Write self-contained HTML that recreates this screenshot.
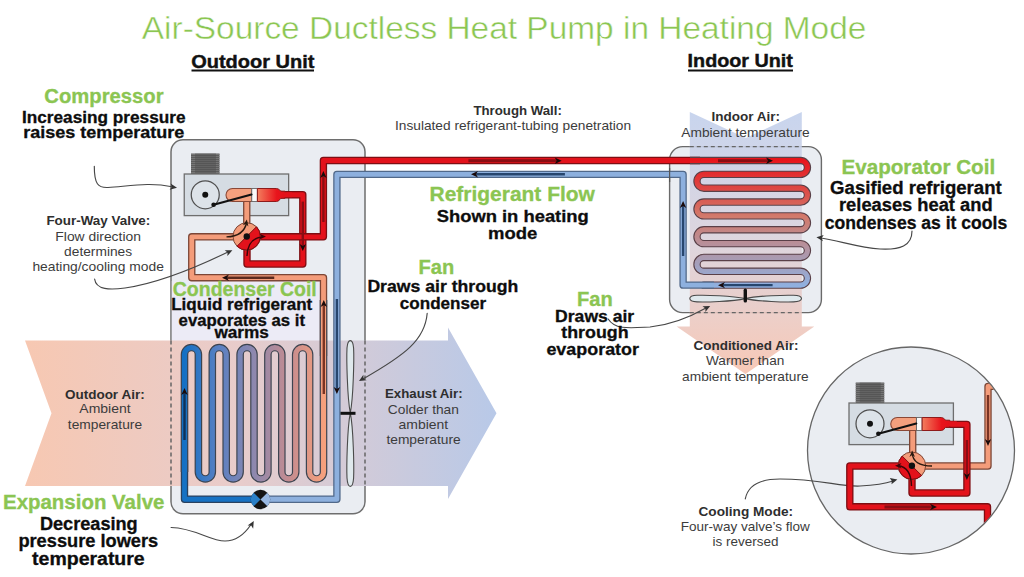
<!DOCTYPE html>
<html><head><meta charset="utf-8">
<style>
html,body{margin:0;padding:0;background:#fff;width:1024px;height:577px;overflow:hidden}
svg{display:block}
text{font-family:"Liberation Sans",sans-serif}
.g{fill:#3a3a3a;font-size:13.3px}
.gb{fill:#2e2e2e;font-size:13.3px;font-weight:bold}
.grn{fill:#8cc654;font-size:19px;font-weight:bold}
.blk{fill:#0d0d0d;font-size:16.5px;font-weight:bold}
.ld{fill:none;stroke:#4a4a4a;stroke-width:1.1}
</style></head><body>
<svg width="1024" height="577" viewBox="0 0 1024 577">
<defs>
<linearGradient id="hband" x1="25" y1="0" x2="497" y2="0" gradientUnits="userSpaceOnUse">
<stop offset="0" stop-color="#f7c8b2"/>
<stop offset="0.45" stop-color="#e8cccb"/>
<stop offset="1" stop-color="#b8c9e8"/>
</linearGradient>
<linearGradient id="vband" x1="0" y1="112" x2="0" y2="374" gradientUnits="userSpaceOnUse">
<stop offset="0" stop-color="#c2d0ec"/>
<stop offset="0.5" stop-color="#ddd3dc"/>
<stop offset="1" stop-color="#f6c2ae"/>
</linearGradient>
<linearGradient id="ocoil" x1="184" y1="0" x2="324" y2="0" gradientUnits="userSpaceOnUse">
<stop offset="0" stop-color="#1470c4"/>
<stop offset="0.25" stop-color="#5a80c2"/>
<stop offset="0.5" stop-color="#8e88ae"/>
<stop offset="0.75" stop-color="#c48c90"/>
<stop offset="1" stop-color="#f6a07c"/>
</linearGradient>
<linearGradient id="icoil" x1="0" y1="160" x2="0" y2="286" gradientUnits="userSpaceOnUse">
<stop offset="0" stop-color="#e8151c"/>
<stop offset="0.45" stop-color="#d27a6c"/>
<stop offset="1" stop-color="#8fb0e0"/>
</linearGradient>
<linearGradient id="cyl" x1="0" y1="0" x2="1" y2="0">
<stop offset="0" stop-color="#f37e5e"/>
<stop offset="0.7" stop-color="#e8141c"/>
<stop offset="1" stop-color="#e3101a"/>
</linearGradient>
<marker id="ah" viewBox="0 0 10 10" refX="9" refY="5" markerWidth="7" markerHeight="7" markerUnits="userSpaceOnUse" orient="auto">
<path d="M0,0 L10,5 L0,10 L3,5 Z" fill="#333"/>
</marker>
</defs>
<!-- outdoor box -->
<rect x="171" y="139.75" width="194" height="374" rx="12" fill="#eaedf2" stroke="#6e6e6e" stroke-width="1.5"/>
<rect x="171.8" y="281" width="149" height="60" fill="#ecebf6"/>
<!-- horizontal air band -->
<polygon points="25,340.5 448,340.5 448,327.5 496.5,413.2 448,499 448,486 25,486 51.5,413.2" fill="url(#hband)"/>
<line x1="171" y1="340.5" x2="171" y2="486" stroke="#666" stroke-width="1.5" stroke-dasharray="4 3"/>
<line x1="365" y1="340.5" x2="365" y2="486" stroke="#666" stroke-width="1.5" stroke-dasharray="4 3"/>
<!-- indoor box -->
<rect x="669.6" y="146.6" width="151.8" height="166" rx="13" fill="#eaedf2" stroke="#6a6a6a" stroke-width="1.4"/>
<polygon points="689.8,112 745.8,138 801.8,112 801.8,326.6 814.3,326.6 745.5,374 676.6,326.6 689.8,326.6" fill="url(#vband)" opacity="0.9"/>
<line x1="689.8" y1="146.6" x2="801.8" y2="146.6" stroke="#666" stroke-width="1.4" stroke-dasharray="4 3"/>
<line x1="689.8" y1="312.6" x2="801.8" y2="312.6" stroke="#666" stroke-width="1.4" stroke-dasharray="4 3"/>
<!-- cooling circle -->
<circle cx="911" cy="450.5" r="103.5" fill="#eaedf2" stroke="#666" stroke-width="1.3"/>
<g transform="translate(0,0)">
<rect x="191" y="153.5" width="28.5" height="20.5" fill="#5c5c5c"/>
<line x1="191" y1="154.5" x2="219.5" y2="154.5" stroke="#7c7c7c" stroke-width="0.8"/>
<line x1="191" y1="156.5" x2="219.5" y2="156.5" stroke="#7c7c7c" stroke-width="0.8"/>
<line x1="191" y1="158.5" x2="219.5" y2="158.5" stroke="#7c7c7c" stroke-width="0.8"/>
<line x1="191" y1="160.5" x2="219.5" y2="160.5" stroke="#7c7c7c" stroke-width="0.8"/>
<line x1="191" y1="162.5" x2="219.5" y2="162.5" stroke="#7c7c7c" stroke-width="0.8"/>
<line x1="191" y1="164.5" x2="219.5" y2="164.5" stroke="#7c7c7c" stroke-width="0.8"/>
<line x1="191" y1="166.5" x2="219.5" y2="166.5" stroke="#7c7c7c" stroke-width="0.8"/>
<line x1="191" y1="168.5" x2="219.5" y2="168.5" stroke="#7c7c7c" stroke-width="0.8"/>
<line x1="191" y1="170.5" x2="219.5" y2="170.5" stroke="#7c7c7c" stroke-width="0.8"/>
<line x1="191" y1="172.5" x2="219.5" y2="172.5" stroke="#7c7c7c" stroke-width="0.8"/>
<rect x="195" y="153.5" width="21" height="20.5" fill="#505050" opacity="0.5"/>
<rect x="184.25" y="174" width="104.4" height="41.6" fill="#d5dce3" stroke="#6e6e6e" stroke-width="1.3"/>
<circle cx="205.25" cy="194.75" r="14" fill="#dde3e9" stroke="#505050" stroke-width="1.25"/>
<circle cx="205.25" cy="194.75" r="3" fill="#111"/>
</g>
<path d="M281,194.75 H302.8 V264 H247 V237" fill="none" stroke="#7e0e13" stroke-width="7.4" stroke-linejoin="round" />
<path d="M281,194.75 H302.8 V264 H247 V237" fill="none" stroke="#e3121b" stroke-width="4.8" stroke-linejoin="round" />
<path d="M246.75,200 V237" fill="none" stroke="#7c4636" stroke-width="7.4" stroke-linejoin="round" />
<path d="M246.75,200 V237" fill="none" stroke="#f49c7a" stroke-width="4.8" stroke-linejoin="round" />
<path d="M247,236.8 H191.75 V277.7 H323.5 V356" fill="none" stroke="#7c4636" stroke-width="7.4" stroke-linejoin="round" />
<path d="M247,236.8 H191.75 V277.7 H323.5 V356" fill="none" stroke="#f49c7a" stroke-width="4.8" stroke-linejoin="round" />
<path d="M247,236.8 H323.4 V160.5 H700" fill="none" stroke="#7e0e13" stroke-width="7.4" stroke-linejoin="round" />
<path d="M247,236.8 H323.4 V160.5 H700" fill="none" stroke="#e3121b" stroke-width="4.8" stroke-linejoin="round" />
<path d="M184.5,460 V499.25 H262" fill="none" stroke="#2a4260" stroke-width="7.4" stroke-linejoin="round" />
<path d="M184.5,460 V499.25 H262" fill="none" stroke="#1672c4" stroke-width="4.8" stroke-linejoin="round" />
<path d="M323.50,300 V472 A6.95,6.95 0 0 1 309.60,472 V354.5 A6.95,6.95 0 0 0 295.70,354.5 V472 A6.95,6.95 0 0 1 281.80,472 V354.5 A6.95,6.95 0 0 0 267.90,354.5 V472 A6.95,6.95 0 0 1 254.00,472 V354.5 A6.95,6.95 0 0 0 240.10,354.5 V472 A6.95,6.95 0 0 1 226.20,472 V354.5 A6.95,6.95 0 0 0 212.30,354.5 V472 A6.95,6.95 0 0 1 198.40,472 V354.5 A6.95,6.95 0 0 0 184.50,354.5 V472" fill="none" stroke="#3d4450" stroke-width="7.6" stroke-linejoin="round"/>
<path d="M323.50,300 V472 A6.95,6.95 0 0 1 309.60,472 V354.5 A6.95,6.95 0 0 0 295.70,354.5 V472 A6.95,6.95 0 0 1 281.80,472 V354.5 A6.95,6.95 0 0 0 267.90,354.5 V472 A6.95,6.95 0 0 1 254.00,472 V354.5 A6.95,6.95 0 0 0 240.10,354.5 V472 A6.95,6.95 0 0 1 226.20,472 V354.5 A6.95,6.95 0 0 0 212.30,354.5 V472 A6.95,6.95 0 0 1 198.40,472 V354.5 A6.95,6.95 0 0 0 184.50,354.5 V472" fill="none" stroke="url(#ocoil)" stroke-width="5.2" stroke-linejoin="round"/>
<path d="M690,160.50 H800.5 A6.925,6.925 0 0 1 800.5,174.35 H703.9 A6.925,6.925 0 0 0 703.9,188.20 H800.5 A6.925,6.925 0 0 1 800.5,202.05 H703.9 A6.925,6.925 0 0 0 703.9,215.90 H800.5 A6.925,6.925 0 0 1 800.5,229.75 H703.9 A6.925,6.925 0 0 0 703.9,243.60 H800.5 A6.925,6.925 0 0 1 800.5,257.45 H703.9 A6.925,6.925 0 0 0 703.9,271.30 H800.5 A6.925,6.925 0 0 1 800.5,285.15 H703.9 H712" fill="none" stroke="#5a4048" stroke-width="7.4" stroke-linejoin="round"/>
<path d="M690,160.50 H800.5 A6.925,6.925 0 0 1 800.5,174.35 H703.9 A6.925,6.925 0 0 0 703.9,188.20 H800.5 A6.925,6.925 0 0 1 800.5,202.05 H703.9 A6.925,6.925 0 0 0 703.9,215.90 H800.5 A6.925,6.925 0 0 1 800.5,229.75 H703.9 A6.925,6.925 0 0 0 703.9,243.60 H800.5 A6.925,6.925 0 0 1 800.5,257.45 H703.9 A6.925,6.925 0 0 0 703.9,271.30 H800.5 A6.925,6.925 0 0 1 800.5,285.15 H703.9 H712" fill="none" stroke="url(#icoil)" stroke-width="5.2" stroke-linejoin="round"/>
<path d="M260.5,499.25 H336.9 V174.4 H683.1 V285.15 H714" fill="none" stroke="#51698a" stroke-width="7.4" stroke-linejoin="round" />
<path d="M260.5,499.25 H336.9 V174.4 H683.1 V285.15 H714" fill="none" stroke="#8db0de" stroke-width="4.8" stroke-linejoin="round" />
<line x1="669.6" y1="168" x2="669.6" y2="182" stroke="#555" stroke-width="1.2"/>
<g transform="translate(0,0)">
<path d="M232.5,188.5 H251.75 V201.5 H232.5 A6.5,6.5 0 0 1 232.5,188.5 Z" fill="#f4a07e" stroke="#8a4836" stroke-width="1.1"/>
<rect x="251.75" y="188.5" width="5.6" height="13" fill="#fafafa" stroke="#666" stroke-width="0.9"/>
<path d="M257.4,188.5 H276.5 Q279,188.5 280.5,191 L282,191.2 H285 V198.3 H282 L280.5,198.5 Q279,201.5 276.5,201.5 H257.4 Z" fill="url(#cyl)" stroke="#8e1a1a" stroke-width="1"/>
<line x1="213.6" y1="204.75" x2="251.5" y2="194.5" stroke="#111" stroke-width="2.2" stroke-linecap="round"/>
<circle cx="213.6" cy="204.75" r="2.3" fill="#111"/>
<path d="M283.5,194.75 H292" stroke="#e3121b" stroke-width="4.9"/>
</g>
<circle cx="246.75" cy="236.5" r="13.75" fill="#f49c7a" stroke="#7c4636" stroke-width="1"/>
<path d="M256.47,226.78 A13.75,13.75 0 0 1 237.03,246.22 Z" fill="#e3121b" stroke="#7e0e13" stroke-width="1"/>
<circle cx="246.75" cy="236.5" r="3.2" fill="#111"/>
<path d="M226.5,236.9 Q244,236.5 246.75,222" fill="none" stroke="#2a1a10" stroke-width="1.4"/>
<path d="M246.90,219.50 L248.37,226.42 L246.01,223.96 L242.88,225.32 Z" fill="#2a1a10"/>
<path d="M247,256 Q247.5,238 263,236.8" fill="none" stroke="#3a0508" stroke-width="1.4"/>
<path d="M266.00,236.60 L259.50,239.40 L261.45,236.60 L259.50,233.80 Z" fill="#3a0508"/>
<circle cx="260.5" cy="499.5" r="9.7" fill="#151515"/>
<path d="M260.5,499.5 L253.64,492.64 A9.7,9.7 0 0 0 253.64,506.36 Z" fill="#2a80c8"/>
<path d="M260.5,499.5 L267.36,492.64 A9.7,9.7 0 0 1 267.36,506.36 Z" fill="#98b8e2"/>
<line x1="323.4" y1="222" x2="323.40" y2="175.00" stroke="#8a0d13" stroke-width="2.4"/>
<path d="M323.40,171.00 L326.60,178.00 L323.40,175.90 L320.20,178.00 Z" fill="#1a0a0a"/>
<line x1="302.8" y1="201.6" x2="302.80" y2="247.00" stroke="#8a0d13" stroke-width="2.4"/>
<path d="M302.80,251.00 L299.60,244.00 L302.80,246.10 L306.00,244.00 Z" fill="#1a0a0a"/>
<line x1="274.25" y1="277.7" x2="226.00" y2="277.70" stroke="#5a2a1e" stroke-width="2.4"/>
<path d="M222.00,277.70 L229.00,274.50 L226.90,277.70 L229.00,280.90 Z" fill="#1a0a0a"/>
<line x1="323.8" y1="394" x2="323.80" y2="304.00" stroke="#7a3424" stroke-width="2.4"/>
<path d="M323.80,300.00 L327.00,307.00 L323.80,304.90 L320.60,307.00 Z" fill="#1a0a0a"/>
<line x1="336.9" y1="299" x2="336.90" y2="390.00" stroke="#27466e" stroke-width="2.4"/>
<path d="M336.90,394.00 L333.70,387.00 L336.90,389.10 L340.10,387.00 Z" fill="#1a0a0a"/>
<line x1="184.5" y1="440" x2="184.50" y2="392.00" stroke="#10325a" stroke-width="2.4"/>
<path d="M184.50,388.00 L187.70,395.00 L184.50,392.90 L181.30,395.00 Z" fill="#1a0a0a"/>
<line x1="468.4" y1="160.8" x2="557.70" y2="160.80" stroke="#8a0d13" stroke-width="3"/>
<path d="M561.70,160.80 L554.70,164.00 L556.80,160.80 L554.70,157.60 Z" fill="#1a0a0a"/>
<line x1="564.9" y1="174.2" x2="475.00" y2="174.20" stroke="#27466e" stroke-width="2.4"/>
<path d="M471.00,174.20 L478.00,171.00 L475.90,174.20 L478.00,177.40 Z" fill="#1a0a0a"/>
<line x1="718" y1="160.8" x2="769.00" y2="160.80" stroke="#8a0d13" stroke-width="3"/>
<path d="M773.00,160.80 L766.00,164.00 L768.10,160.80 L766.00,157.60 Z" fill="#1a0a0a"/>
<line x1="683.1" y1="256" x2="683.10" y2="205.00" stroke="#27466e" stroke-width="2.4"/>
<path d="M683.10,201.00 L686.30,208.00 L683.10,205.90 L679.90,208.00 Z" fill="#1a0a0a"/>
<line x1="772.6" y1="285.15" x2="722.00" y2="285.15" stroke="#27466e" stroke-width="2.4"/>
<path d="M718.00,285.15 L725.00,281.95 L722.90,285.15 L725.00,288.35 Z" fill="#1a0a0a"/>
<path d="M350.3,412.8 C347.2,398 346.5,358 347,348 Q347.6,340.6 350.3,340.6 Q353,340.6 353.6,348 C354.1,358 353.4,398 350.3,412.8 Z" fill="#dfe8ec" stroke="#4a4a4a" stroke-width="1.1"/>
<path d="M350.3,412.8 C347.2,428 346.5,468 347,478 Q347.6,486.4 350.3,486.4 Q353,486.4 353.6,478 C354.1,468 353.4,428 350.3,412.8 Z" fill="#dfe8ec" stroke="#4a4a4a" stroke-width="1.1"/>
<rect x="340.5" y="411.8" width="15" height="3" fill="#111"/>
<path d="M745.25,298.6 C732,295.6 705,295 697,295.3 Q689.8,295.6 689.8,298.6 Q689.8,301.6 697,301.9 C705,302.2 732,301.6 745.25,298.6 Z" fill="#dfe8ec" stroke="#4a4a4a" stroke-width="1.1"/>
<path d="M745.25,298.6 C758.5,295.6 785.5,295 793.5,295.3 Q801.5,295.6 801.5,298.6 Q801.5,301.6 793.5,301.9 C785.5,302.2 758.5,301.6 745.25,298.6 Z" fill="#dfe8ec" stroke="#4a4a4a" stroke-width="1.1"/>
<rect x="743.6" y="288.6" width="3.4" height="14" rx="1.6" fill="#111"/>
<clipPath id="cc"><circle cx="911" cy="450.5" r="102.8"/></clipPath>
<path d="M745.3,498.9 C748,485 760,479 780,479 C820,479 840,487 860,486 C878,485 887,483 893,481" fill="none" stroke="#474747" stroke-width="1.15" stroke-linecap="round"/>
<path d="M897.4,479.5 L889.8,478.1 L891.8,480.9 L891.5,484.3 Z" fill="#333"/>
<g clip-path="url(#cc)">
<g transform="translate(664.75,229)">
<rect x="191" y="153.5" width="28.5" height="20.5" fill="#5c5c5c"/>
<line x1="191" y1="154.5" x2="219.5" y2="154.5" stroke="#7c7c7c" stroke-width="0.8"/>
<line x1="191" y1="156.5" x2="219.5" y2="156.5" stroke="#7c7c7c" stroke-width="0.8"/>
<line x1="191" y1="158.5" x2="219.5" y2="158.5" stroke="#7c7c7c" stroke-width="0.8"/>
<line x1="191" y1="160.5" x2="219.5" y2="160.5" stroke="#7c7c7c" stroke-width="0.8"/>
<line x1="191" y1="162.5" x2="219.5" y2="162.5" stroke="#7c7c7c" stroke-width="0.8"/>
<line x1="191" y1="164.5" x2="219.5" y2="164.5" stroke="#7c7c7c" stroke-width="0.8"/>
<line x1="191" y1="166.5" x2="219.5" y2="166.5" stroke="#7c7c7c" stroke-width="0.8"/>
<line x1="191" y1="168.5" x2="219.5" y2="168.5" stroke="#7c7c7c" stroke-width="0.8"/>
<line x1="191" y1="170.5" x2="219.5" y2="170.5" stroke="#7c7c7c" stroke-width="0.8"/>
<line x1="191" y1="172.5" x2="219.5" y2="172.5" stroke="#7c7c7c" stroke-width="0.8"/>
<rect x="195" y="153.5" width="21" height="20.5" fill="#505050" opacity="0.5"/>
<rect x="184.25" y="174" width="104.4" height="41.6" fill="#d5dce3" stroke="#6e6e6e" stroke-width="1.3"/>
<circle cx="205.25" cy="194.75" r="14" fill="#dde3e9" stroke="#505050" stroke-width="1.25"/>
<circle cx="205.25" cy="194.75" r="3" fill="#111"/>
</g>
<path d="M912.7,430 V466" fill="none" stroke="#7c4636" stroke-width="7.4" stroke-linejoin="round" />
<path d="M912.7,430 V466" fill="none" stroke="#f49c7a" stroke-width="4.8" stroke-linejoin="round" />
<path d="M911.9,466 H988 V386.4 H1030" fill="none" stroke="#7c4636" stroke-width="7.4" stroke-linejoin="round" />
<path d="M911.9,466 H988 V386.4 H1030" fill="none" stroke="#f49c7a" stroke-width="4.8" stroke-linejoin="round" />
<path d="M946,424.4 H966.9 V493 H912 V466" fill="none" stroke="#7e0e13" stroke-width="7.4" stroke-linejoin="round" />
<path d="M946,424.4 H966.9 V493 H912 V466" fill="none" stroke="#e3121b" stroke-width="4.8" stroke-linejoin="round" />
<path d="M911.9,466 H849.8 V506.8 H987.5 V580" fill="none" stroke="#7e0e13" stroke-width="7.4" stroke-linejoin="round" />
<path d="M911.9,466 H849.8 V506.8 H987.5 V580" fill="none" stroke="#e3121b" stroke-width="4.8" stroke-linejoin="round" />
<g transform="translate(664.75,229)">
<path d="M232.5,188.5 H251.75 V201.5 H232.5 A6.5,6.5 0 0 1 232.5,188.5 Z" fill="#f4a07e" stroke="#8a4836" stroke-width="1.1"/>
<rect x="251.75" y="188.5" width="5.6" height="13" fill="#fafafa" stroke="#666" stroke-width="0.9"/>
<path d="M257.4,188.5 H276.5 Q279,188.5 280.5,191 L282,191.2 H285 V198.3 H282 L280.5,198.5 Q279,201.5 276.5,201.5 H257.4 Z" fill="url(#cyl)" stroke="#8e1a1a" stroke-width="1"/>
<line x1="213.6" y1="204.75" x2="251.5" y2="194.5" stroke="#111" stroke-width="2.2" stroke-linecap="round"/>
<circle cx="213.6" cy="204.75" r="2.3" fill="#111"/>
<path d="M283.5,194.75 H292" stroke="#e3121b" stroke-width="4.9"/>
</g>
<circle cx="911.9" cy="465.8" r="13.75" fill="#f49c7a" stroke="#7c4636" stroke-width="1"/>
<path d="M921.62,475.52 A13.75,13.75 0 0 1 902.18,456.08 Z" fill="#e3121b" stroke="#7e0e13" stroke-width="1"/>
<circle cx="911.9" cy="465.8" r="3.2" fill="#111"/>
<path d="M932,466 Q913,466 912.2,453" fill="none" stroke="#2a1a10" stroke-width="1.4"/>
<path d="M912.20,450.50 L915.00,457.00 L912.20,455.05 L909.40,457.00 Z" fill="#2a1a10"/>
<path d="M911.5,486 Q911,467 898,465.8" fill="none" stroke="#3a0508" stroke-width="1.4"/>
<path d="M895.00,465.80 L901.50,463.00 L899.55,465.80 L901.50,468.60 Z" fill="#3a0508"/>
<line x1="966.9" y1="440" x2="966.90" y2="476.00" stroke="#8a0d13" stroke-width="2.4"/>
<path d="M966.90,480.00 L963.70,473.00 L966.90,475.10 L970.10,473.00 Z" fill="#1a0a0a"/>
<line x1="988" y1="395" x2="988.00" y2="442.00" stroke="#7a3424" stroke-width="2.4"/>
<path d="M988.00,446.00 L984.80,439.00 L988.00,441.10 L991.20,439.00 Z" fill="#1a0a0a"/>
<line x1="884.5" y1="507" x2="933.00" y2="507.00" stroke="#8a0d13" stroke-width="3"/>
<path d="M937.00,507.00 L930.00,510.20 L932.10,507.00 L930.00,503.80 Z" fill="#1a0a0a"/>
</g><path d="M94.3,166.2 C94.3,184 98,188 108,187.5 C130,186 150,182 172,186.8" fill="none" stroke="#474747" stroke-width="1.15" stroke-linecap="round"/>
<path d="M177.00,187.70 L169.60,189.83 L171.81,186.92 L170.55,183.50 Z" fill="#333"/>
<path d="M94.6,279 C96,290 110,290 125,288 C160,283 195,268 228,252" fill="none" stroke="#474747" stroke-width="1.15" stroke-linecap="round"/>
<path d="M232.40,250.30 L227.33,256.09 L227.61,252.45 L224.70,250.25 Z" fill="#333"/>
<path d="M427.2,313.3 C425,340 405,355 363,379" fill="none" stroke="#474747" stroke-width="1.15" stroke-linecap="round"/>
<path d="M359.00,381.10 L363.36,374.75 L363.50,378.40 L366.65,380.24 Z" fill="#333"/>
<path d="M912,231 C912,246 900,250 880,249 C860,248 840,241 821,238" fill="none" stroke="#474747" stroke-width="1.15" stroke-linecap="round"/>
<path d="M816.40,237.30 L823.73,234.96 L821.61,237.93 L822.97,241.31 Z" fill="#333"/>
<path d="M608.2,319 C615,330 630,328 650,327 C670,325 690,317 706,308" fill="none" stroke="#474747" stroke-width="1.15" stroke-linecap="round"/>
<path d="M710.20,306.10 L705.37,312.09 L705.50,308.45 L702.51,306.37 Z" fill="#333"/>
<path d="M171.1,527.5 C195,528 210,541 225,541 C238,541 246,532 251,524.5" fill="none" stroke="#474747" stroke-width="1.15" stroke-linecap="round"/>
<path d="M253.75,521.00 L253.18,528.68 L251.22,525.60 L247.57,525.59 Z" fill="#333"/><text x="141.80" y="39.2" textLength="724.61" lengthAdjust="spacingAndGlyphs" style="font-size:31.5px;fill:#8bc652;stroke:#fff;stroke-width:0.45">Air-Source Ductless Heat Pump in Heating Mode</text>
<text x="191.20" y="67.5" textLength="123.30" lengthAdjust="spacingAndGlyphs" style="font-size:17.5px;font-weight:bold;fill:#111;stroke:#111;stroke-width:0.4">Outdoor Unit</text>
<rect x="191.5" y="69.5" width="122.5" height="2" fill="#111"/>
<text x="687.60" y="67.3" textLength="105.30" lengthAdjust="spacingAndGlyphs" style="font-size:17.5px;font-weight:bold;fill:#111;stroke:#111;stroke-width:0.4">Indoor Unit</text>
<rect x="688" y="69.5" width="105" height="2" fill="#111"/>
<text x="473.40" y="114.7" textLength="88.49" lengthAdjust="spacingAndGlyphs" style="font-size:13.3px;font-weight:bold;fill:#2e2e2e">Through Wall:</text>
<text x="395.00" y="130" textLength="236.09" lengthAdjust="spacingAndGlyphs" style="font-size:13.3px;fill:#3c3c3c">Insulated refrigerant-tubing penetration</text>
<text x="46.40" y="225.3" textLength="103.90" lengthAdjust="spacingAndGlyphs" style="font-size:13.3px;font-weight:bold;fill:#2e2e2e">Four-Way Valve:</text>
<text x="55.35" y="240.6" textLength="85.55" lengthAdjust="spacingAndGlyphs" style="font-size:13.3px;fill:#3c3c3c">Flow direction</text>
<text x="64.10" y="256.25" textLength="68.05" lengthAdjust="spacingAndGlyphs" style="font-size:13.3px;fill:#3c3c3c">determines</text>
<text x="32.40" y="271.4" textLength="131.50" lengthAdjust="spacingAndGlyphs" style="font-size:13.3px;fill:#3c3c3c">heating/cooling mode</text>
<text x="64.90" y="398.5" textLength="79.75" lengthAdjust="spacingAndGlyphs" style="font-size:13.3px;font-weight:bold;fill:#2e2e2e">Outdoor Air:</text>
<text x="79.30" y="413.4" textLength="51.31" lengthAdjust="spacingAndGlyphs" style="font-size:13.3px;fill:#3c3c3c">Ambient</text>
<text x="67.85" y="428.6" textLength="74.25" lengthAdjust="spacingAndGlyphs" style="font-size:13.3px;fill:#3c3c3c">temperature</text>
<text x="385.00" y="398.3" textLength="77.60" lengthAdjust="spacingAndGlyphs" style="font-size:13.3px;font-weight:bold;fill:#2e2e2e">Exhaust Air:</text>
<text x="387.80" y="413.8" textLength="71.10" lengthAdjust="spacingAndGlyphs" style="font-size:13.3px;fill:#3c3c3c">Colder than</text>
<text x="398.50" y="429.3" textLength="49.69" lengthAdjust="spacingAndGlyphs" style="font-size:13.3px;fill:#3c3c3c">ambient</text>
<text x="386.40" y="444.3" textLength="74.30" lengthAdjust="spacingAndGlyphs" style="font-size:13.3px;fill:#3c3c3c">temperature</text>
<text x="711.40" y="121.1" textLength="68.50" lengthAdjust="spacingAndGlyphs" style="font-size:13.3px;font-weight:bold;fill:#2e2e2e">Indoor Air:</text>
<text x="681.30" y="136.7" textLength="128.35" lengthAdjust="spacingAndGlyphs" style="font-size:13.3px;fill:#3c3c3c">Ambient temperature</text>
<text x="693.50" y="349.7" textLength="104.90" lengthAdjust="spacingAndGlyphs" style="font-size:13.3px;font-weight:bold;fill:#2e2e2e">Conditioned Air:</text>
<text x="706.00" y="364.8" textLength="78.30" lengthAdjust="spacingAndGlyphs" style="font-size:13.3px;fill:#3c3c3c">Warmer than</text>
<text x="682.10" y="380.5" textLength="126.50" lengthAdjust="spacingAndGlyphs" style="font-size:13.3px;fill:#3c3c3c">ambient temperature</text>
<text x="698.50" y="515.8" textLength="94.60" lengthAdjust="spacingAndGlyphs" style="font-size:13.3px;font-weight:bold;fill:#2e2e2e">Cooling Mode:</text>
<text x="680.80" y="531" textLength="129.06" lengthAdjust="spacingAndGlyphs" style="font-size:13.3px;fill:#3c3c3c">Four-way valve’s flow</text>
<text x="712.50" y="546.25" textLength="65.90" lengthAdjust="spacingAndGlyphs" style="font-size:13.3px;fill:#3c3c3c">is reversed</text>
<text x="44.30" y="103.2" textLength="119.29" lengthAdjust="spacingAndGlyphs" style="font-size:19.5px;font-weight:bold;fill:#8bc552;stroke:#8bc552;stroke-width:0.3">Compressor</text>
<text x="22.00" y="122.5" textLength="163.51" lengthAdjust="spacingAndGlyphs" style="font-size:16.2px;font-weight:bold;fill:#0d0d0d;stroke:#0d0d0d;stroke-width:0.3">Increasing pressure</text>
<text x="23.20" y="138.4" textLength="161.10" lengthAdjust="spacingAndGlyphs" style="font-size:16.2px;font-weight:bold;fill:#0d0d0d;stroke:#0d0d0d;stroke-width:0.3">raises temperature</text>
<text x="429.60" y="201.1" textLength="165.25" lengthAdjust="spacingAndGlyphs" style="font-size:19.5px;font-weight:bold;fill:#8bc552;stroke:#8bc552;stroke-width:0.3">Refrigerant Flow</text>
<text x="436.70" y="221.8" textLength="152.11" lengthAdjust="spacingAndGlyphs" style="font-size:17.2px;font-weight:bold;fill:#0d0d0d;stroke:#0d0d0d;stroke-width:0.3">Shown in heating</text>
<text x="488.00" y="238.9" textLength="49.30" lengthAdjust="spacingAndGlyphs" style="font-size:17.2px;font-weight:bold;fill:#0d0d0d;stroke:#0d0d0d;stroke-width:0.3">mode</text>
<text x="418.50" y="273.6" textLength="35.70" lengthAdjust="spacingAndGlyphs" style="font-size:19.5px;font-weight:bold;fill:#8bc552;stroke:#8bc552;stroke-width:0.3">Fan</text>
<text x="367.40" y="291.9" textLength="150.89" lengthAdjust="spacingAndGlyphs" style="font-size:17.0px;font-weight:bold;fill:#0d0d0d;stroke:#0d0d0d;stroke-width:0.3">Draws air through</text>
<text x="399.80" y="309" textLength="86.40" lengthAdjust="spacingAndGlyphs" style="font-size:17.0px;font-weight:bold;fill:#0d0d0d;stroke:#0d0d0d;stroke-width:0.3">condenser</text>
<text x="841.40" y="173.9" textLength="153.80" lengthAdjust="spacingAndGlyphs" style="font-size:19.5px;font-weight:bold;fill:#8bc552;stroke:#8bc552;stroke-width:0.3">Evaporator Coil</text>
<text x="830.10" y="193.8" textLength="171.70" lengthAdjust="spacingAndGlyphs" style="font-size:17.6px;font-weight:bold;fill:#0d0d0d;stroke:#0d0d0d;stroke-width:0.3">Gasified refrigerant</text>
<text x="839.00" y="211.4" textLength="153.59" lengthAdjust="spacingAndGlyphs" style="font-size:17.6px;font-weight:bold;fill:#0d0d0d;stroke:#0d0d0d;stroke-width:0.3">releases heat and</text>
<text x="824.70" y="228.7" textLength="182.49" lengthAdjust="spacingAndGlyphs" style="font-size:17.6px;font-weight:bold;fill:#0d0d0d;stroke:#0d0d0d;stroke-width:0.3">condenses as it cools</text>
<text x="576.90" y="305.8" textLength="35.80" lengthAdjust="spacingAndGlyphs" style="font-size:19.5px;font-weight:bold;fill:#8bc552;stroke:#8bc552;stroke-width:0.3">Fan</text>
<text x="555.10" y="321.7" textLength="79.11" lengthAdjust="spacingAndGlyphs" style="font-size:17.0px;font-weight:bold;fill:#0d0d0d;stroke:#0d0d0d;stroke-width:0.3">Draws air</text>
<text x="561.30" y="338.4" textLength="67.31" lengthAdjust="spacingAndGlyphs" style="font-size:17.0px;font-weight:bold;fill:#0d0d0d;stroke:#0d0d0d;stroke-width:0.3">through</text>
<text x="546.40" y="355" textLength="92.61" lengthAdjust="spacingAndGlyphs" style="font-size:17.0px;font-weight:bold;fill:#0d0d0d;stroke:#0d0d0d;stroke-width:0.3">evaporator</text>
<text x="3.00" y="508.7" textLength="161.39" lengthAdjust="spacingAndGlyphs" style="font-size:19.5px;font-weight:bold;fill:#8bc552;stroke:#8bc552;stroke-width:0.3">Expansion Valve</text>
<text x="39.90" y="529.8" textLength="97.79" lengthAdjust="spacingAndGlyphs" style="font-size:17.6px;font-weight:bold;fill:#0d0d0d;stroke:#0d0d0d;stroke-width:0.3">Decreasing</text>
<text x="18.40" y="547.4" textLength="139.81" lengthAdjust="spacingAndGlyphs" style="font-size:17.6px;font-weight:bold;fill:#0d0d0d;stroke:#0d0d0d;stroke-width:0.3">pressure lowers</text>
<text x="32.10" y="565" textLength="112.60" lengthAdjust="spacingAndGlyphs" style="font-size:17.6px;font-weight:bold;fill:#0d0d0d;stroke:#0d0d0d;stroke-width:0.3">temperature</text>
<text x="172.80" y="296.4" textLength="143.99" lengthAdjust="spacingAndGlyphs" style="font-size:19.5px;font-weight:bold;fill:#8bc552;stroke:#8bc552;stroke-width:0.3">Condenser Coil</text>
<text x="171.20" y="310" textLength="141.11" lengthAdjust="spacingAndGlyphs" style="font-size:16.0px;font-weight:bold;fill:#0d0d0d;stroke:#0d0d0d;stroke-width:0.3">Liquid refrigerant</text>
<text x="178.60" y="325.7" textLength="126.39" lengthAdjust="spacingAndGlyphs" style="font-size:16.0px;font-weight:bold;fill:#0d0d0d;stroke:#0d0d0d;stroke-width:0.3">evaporates as it</text>
<text x="214.45" y="338.4" textLength="54.46" lengthAdjust="spacingAndGlyphs" style="font-size:16.0px;font-weight:bold;fill:#0d0d0d;stroke:#0d0d0d;stroke-width:0.3">warms</text></svg>
</body></html>
